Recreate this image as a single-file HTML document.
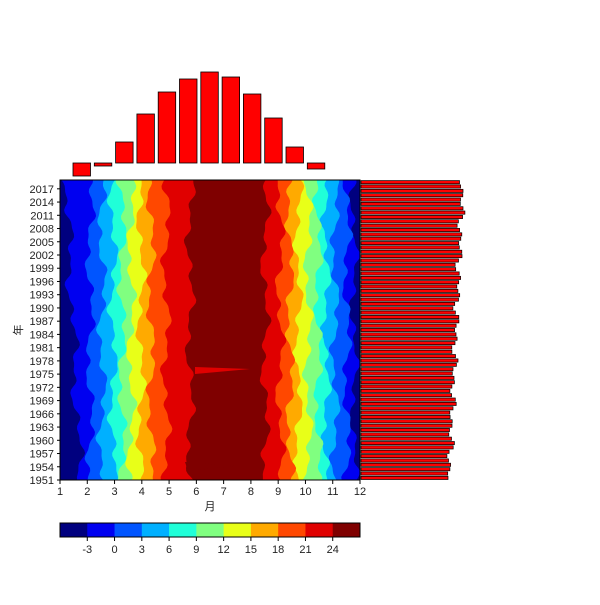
<!DOCTYPE html>
<html><head><meta charset="utf-8"><style>
body{margin:0;background:#fff}
svg text{font-family:"Liberation Sans","Noto Sans CJK SC",sans-serif;font-size:11px;fill:#222}
</style></head><body>
<svg id="s" width="600" height="600" xmlns="http://www.w3.org/2000/svg"></svg>
<script>
const s=document.getElementById('s');let h='';
const cols=['#00007f','#0000f0','#0055ff','#00b0ff','#20ffd8','#80ff80','#e8ff18','#ffaa00','#ff4800','#e00000','#7f0000'];
const L=[66,90,102,113,122,131,141,151,166,190];
const R=[354,347,335,326,318,308,298,290,280,265];
function nz(k,y,side){return 3*Math.sin(y*0.06+k*1.7+side)+2.5*Math.sin(y*0.17+k*2.9+side*3)+1.2*Math.sin(y*0.35+k);}
h+='<rect x="60" y="180" width="300" height="300" fill="'+cols[0]+'"/>';
for(let k=0;k<10;k++){
 let pts=[];
 for(let y=180;y<=480;y+=3){let ex=0;if(k==0)ex=(y-180)/300*14;pts.push([L[k]+nz(k,y,0)+ex,y]);}
 for(let y=480;y>=180;y-=3){pts.push([R[k]+nz(k,y,5),y]);}
 pts=pts.map(p=>[Math.max(60,Math.min(360,p[0])),p[1]]);
 h+='<polygon fill="'+cols[k+1]+'" points="'+pts.map(p=>p[0].toFixed(1)+','+p[1]).join(' ')+'"/>';
}
h+='<polygon fill="#7f0000" points="185,462 235,466 188,471"/>';
h+='<polygon fill="#e00000" points="195,367 250,369 195,374"/>';
h+='<rect x="60" y="180" width="300" height="300" fill="none" stroke="#000" stroke-width="1"/>';
for(let yr=1951;yr<=2017;yr+=3){let y=480-(yr-1951)*300/68;h+='<line x1="57" x2="60" y1="'+y+'" y2="'+y+'" stroke="#000"/><text x="54" y="'+(y+4)+'" text-anchor="end">'+yr+'</text>';}
for(let m=1;m<=12;m++){let x=60+(m-1)*300/11;h+='<line x1="'+x+'" x2="'+x+'" y1="480" y2="484" stroke="#000"/><text x="'+x+'" y="495" text-anchor="middle">'+m+'</text>';}
h+='<text x="210" y="510" text-anchor="middle">月</text>';
h+='<text transform="translate(22,330) rotate(-90)" text-anchor="middle">年</text>';
const tops=[176,166,142,114,92,79,72,77,94,118,147,169];
for(let i=0;i<12;i++){let x=73+i*21.3,t=tops[i],b=163;let y=Math.min(t,b),hh=Math.abs(t-b);h+='<rect x="'+x+'" y="'+y+'" width="17.5" height="'+hh+'" fill="#ff0000" stroke="#000" stroke-width="0.8"/>';}
for(let yr=1951;yr<=2019;yr++){let y=480-(yr-1951+1)*300/69;let len=88+(yr-1951)*0.2+2.5*Math.sin(yr*1.3)+1.5*Math.sin(yr*0.7);h+='<rect x="361" y="'+(y+0.6).toFixed(1)+'" width="'+len.toFixed(1)+'" height="3.2" fill="#ff0000" stroke="#000" stroke-width="0.7"/>';}
for(let i=0;i<11;i++){h+='<rect x="'+(60+i*300/11)+'" y="523" width="'+(300/11+0.5)+'" height="14" fill="'+cols[i]+'"/>';}
h+='<rect x="60" y="523" width="300" height="14" fill="none" stroke="#000"/>';
const lb=['-3','0','3','6','9','12','15','18','21','24'];
for(let i=0;i<10;i++){let x=60+(i+1)*300/11;h+='<line x1="'+x+'" x2="'+x+'" y1="537" y2="541" stroke="#000"/><text x="'+x+'" y="553" text-anchor="middle">'+lb[i]+'</text>';}
s.innerHTML=h;
</script>
</body></html>
